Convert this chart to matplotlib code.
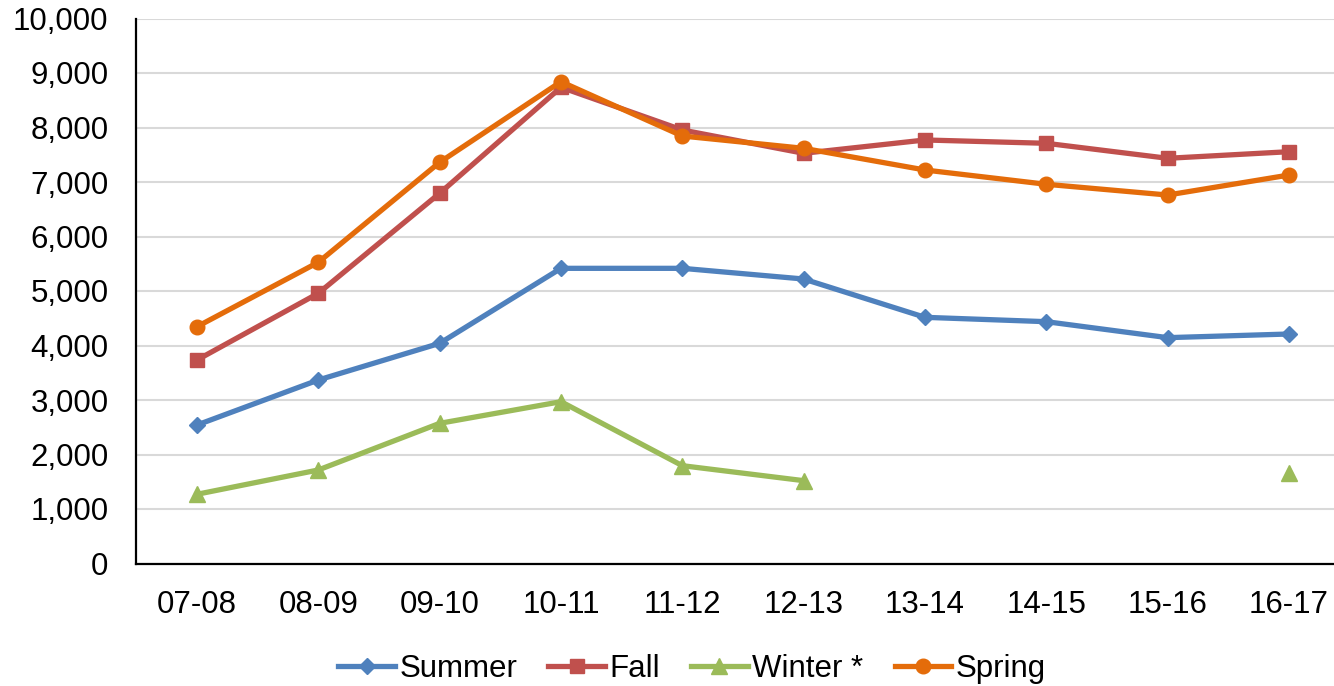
import numpy as np
import matplotlib
matplotlib.use("Agg")
import matplotlib.pyplot as plt
from matplotlib.ticker import FuncFormatter

plt.rcParams['font.family'] = ['Liberation Sans', 'DejaVu Sans']

years = ['07-08', '08-09', '09-10', '10-11', '11-12', '12-13', '13-14', '14-15', '15-16', '16-17']
summer = [2541, 3367, 4040, 5416, 5416, 5220, 4517, 4437, 4144, 4211]
fall = [3734, 4958, 6793, 8738, 7954, 7527, 7771, 7710, 7435, 7556]
winter = [1270, 1716, 2572, 2969, 1795, 1520, np.nan, np.nan, np.nan, 1655]
spring = [4345, 5527, 7361, 8841, 7844, 7618, 7220, 6958, 6761, 7128]

fig = plt.figure(figsize=(13.34, 6.86), dpi=100)
# plot area runs a little past the right edge, as in the original
ax = fig.add_axes([136.3 / 1334, 122.5 / 686, 1213.4 / 1334, 545 / 686])

x = np.arange(len(years))
lw = 3.8
ax.plot(x, summer, color='#4F81BD', lw=lw, marker='D', ms=8, label='Summer', zorder=3)
ax.plot(x, fall, color='#C0504D', lw=lw, marker='s', ms=10.5, label='Fall', zorder=3)
ax.plot(x, winter, color='#9BBB59', lw=lw, marker='^', ms=11, label='Winter *', zorder=3)
ax.plot(x, spring, color='#E46C0A', lw=lw, marker='o', ms=10.5, label='Spring', zorder=4)

ax.set_xlim(-0.5, len(years) - 0.5)
ax.set_ylim(0, 10000)
ax.set_yticks(np.arange(0, 10001, 1000))
ax.yaxis.set_major_formatter(FuncFormatter(lambda v, p: f'{int(v):,}'))
ax.set_xticks(x)
ax.set_xticklabels(years)

ax.grid(axis='y', color='#D9D9D9', lw=1.5, zorder=0)
ax.set_axisbelow(True)
for s in ['top', 'right']:
    ax.spines[s].set_visible(False)
for s in ['left', 'bottom']:
    ax.spines[s].set_linewidth(1.6)
    ax.spines[s].set_color('black')

ax.tick_params(axis='y', labelsize=22.5, length=0, pad=20, colors='black')
ax.tick_params(axis='x', labelsize=22.5, length=0, pad=19, colors='black')

fig.legend(loc='center', bbox_to_anchor=(692 / 1334, 1 - 669 / 686), ncol=4,
           frameon=False, fontsize=22.5, handlelength=1.8, handletextpad=0.15,
           columnspacing=1.0, borderaxespad=0)

fig.savefig('out.png', dpi=100)
